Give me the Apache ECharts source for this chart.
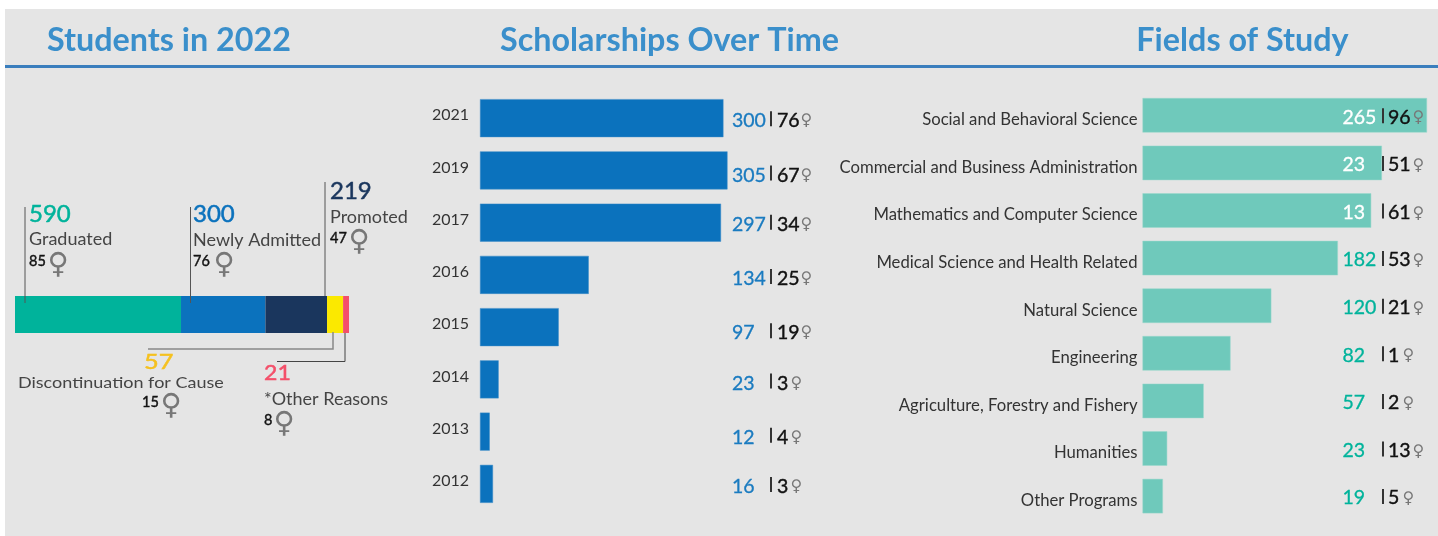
<!DOCTYPE html>
<html>
<head>
<meta charset="utf-8">
<title>Students in 2022</title>
<script src="https://cdn.jsdelivr.net/npm/echarts@6/dist/echarts.min.js"></script>
<style>
html, body { margin: 0; padding: 0; background: #fff; }
#chart { width: 1438px; height: 536px; }
</style>
</head>
<body>
<div id="chart"></div>
<script>
// students in 2022
var statusNames = ['Graduated', 'Newly Admitted', 'Promoted', 'Discontinuation for Cause', '*Other Reasons'];
var statusValues = [590, 300, 219, 57, 21];
var statusFemale = [85, 76, 47, 15, 8];
var statusColors = ['#00b39b', '#0b72bd', '#1a365d', '#fbe900', '#f4506a'];

// scholarships
var years = ['2021', '2019', '2017', '2016', '2015', '2014', '2013', '2012'];
var scholarships = [300, 305, 297, 134, 97, 23, 12, 16];
var scholarshipFemale = [76, 67, 34, 25, 19, 3, 4, 3];

// fields, the printed labels of rows 2 and 3 differ from the bar lengths
var fields = ['Social and Behavioral Science', 'Commercial and Business Administration', 'Mathematics and Computer Science', 'Medical Science and Health Related', 'Natural Science', 'Engineering', 'Agriculture, Forestry and Fishery', 'Humanities', 'Other Programs'];
var fieldValues = [265, 223, 213, 182, 120, 82, 57, 23, 19];
var fieldLabels = ['265', '23', '13', '182', '120', '82', '57', '23', '19'];
var fieldFemale = [96, 51, 61, 53, 21, 1, 2, 13, 5];

var LATO = 'Lato, "Noto Sans", sans-serif';
var VENUS = '\u2640';
// the scholarship labels do not sit evenly on their rows
var scholarshipNudge = [3, 5, 2, 4, 6, 4, 6, 3];

var myChart = echarts.init(document.getElementById('chart'));

function sum(arr) {
    return arr.reduce(function (a, b) { return a + b; }, 0);
}

function hiddenX(grid, max) {
    return { type: 'value', gridIndex: grid, min: 0, max: max, show: false };
}

function catY(grid, data, size, margin, vAlign, lineH) {
    return {
        type: 'category', gridIndex: grid, data: data, inverse: true,
        axisLine: { show: false }, axisTick: { show: false }, splitLine: { show: false },
        axisLabel: {
            color: '#333', fontFamily: LATO, fontSize: size, margin: margin,
            verticalAlign: vAlign, lineHeight: lineH
        }
    };
}

var series = statusValues.map(function (v, i) {
    return {
        type: 'bar', name: statusNames[i], stack: 'status', xAxisIndex: 0, yAxisIndex: 0,
        barWidth: 37, data: [v], itemStyle: { color: statusColors[i] }, silent: true
    };
});
series.push({
    type: 'bar', xAxisIndex: 1, yAxisIndex: 1, barWidth: 38, data: scholarships,
    itemStyle: { color: '#0b72bd', borderColor: '#3c8dc9', borderWidth: 0.5 }, silent: true
});
series.push({
    type: 'bar', xAxisIndex: 2, yAxisIndex: 2, barWidth: 34.5, data: fieldValues,
    itemStyle: { color: '#6fc9bb', borderColor: '#9bd8cd', borderWidth: 0.5 }, silent: true
});

function title(text, x) {
    return {
        text: text, left: x, top: 20, textAlign: 'center',
        textStyle: { color: '#3a8fcb', fontFamily: LATO, fontSize: 32.3, fontWeight: 'bold' }
    };
}

myChart.setOption({
    animation: false,
    backgroundColor: '#fff',
    title: [title('Students in 2022', 164), title('Scholarships Over Time', 664.5), title('Fields of Study', 1237.5)],
    grid: [
        { left: 15, top: 296, width: 334, height: 37 },
        { left: 480, top: 92, width: 247.5, height: 418 },
        { left: 1142.5, top: 91.5, width: 284.5, height: 428.4 }
    ],
    xAxis: [hiddenX(0, sum(statusValues)), hiddenX(1, 305), hiddenX(2, 265)],
    yAxis: [
        { type: 'category', gridIndex: 0, data: ['2022'], show: false },
        catY(1, years, 16, 11, 'bottom', 6),
        catY(2, fields, 16.7, 5, 'top', 9)
    ],
    series: series
});

function text(x, y, str, size, color, family, weight, stretch, heavy) {
    return {
        type: 'text', x: x, y: y, z: 10, silent: true, scaleX: stretch || 1,
        style: {
            text: str, fontSize: size, fill: color, fontFamily: family || LATO,
            fontWeight: weight || 'normal', align: 'left', verticalAlign: 'middle',
            stroke: heavy ? color : null, lineWidth: heavy || 0
        }
    };
}

function line(points, color, width) {
    return {
        type: 'polyline', z: 10, silent: true, shape: { points: points },
        style: { stroke: color, lineWidth: width, fill: null }
    };
}

function venus(x, y, size) {
    return text(x, y, VENUS, size, '#777', '"DejaVu Sans"');
}

// callout: p holds where the value, name and count lines go
function callout(i, p) {
    var color = statusColors[i] === '#fbe900' ? '#f5c11f' : statusColors[i];
    return [
        text(p.x, p.y, String(statusValues[i]), p.valueSize || 24, color, LATO, 'normal', p.valueStretch, 0.5),
        text(p.nameX, p.nameY, statusNames[i], p.nameSize || 18, '#444', LATO, 'normal', p.nameStretch),
        text(p.countX, p.countY, String(statusFemale[i]), 14.5, '#111', LATO, 'normal', 1, 0.4),
        venus(p.venusX, p.countY + 4, 29)
    ];
}

var g = [
    { type: 'rect', z: -10, silent: true, shape: { x: 5, y: 9, width: 1433, height: 527 }, style: { fill: '#e5e5e5' } },
    { type: 'rect', z: -9, silent: true, shape: { x: 5, y: 65, width: 1433, height: 3 }, style: { fill: '#3a7ebd' } },
    line([[25, 207], [25, 303]], '#555', 1),
    line([[190.5, 207], [190.5, 303]], '#555', 1),
    line([[325, 182], [325, 296]], '#555', 1),
    line([[148, 349], [333, 349], [333, 332]], '#888', 1.5),
    line([[277, 361.5], [345, 361.5], [345, 333]], '#444', 1)
];
g = g.concat(callout(0, { x: 29, y: 214, nameX: 29, nameY: 239, countX: 29, countY: 261, venusX: 47.5 }));
g = g.concat(callout(1, { x: 193, y: 214, nameX: 193, nameY: 240, countX: 193, countY: 261, venusX: 213.5 }));
g = g.concat(callout(2, { x: 330, y: 191, nameX: 330, nameY: 217, countX: 330, countY: 238, venusX: 348.5 }));
g = g.concat(callout(3, { x: 144, y: 362, valueSize: 22, valueStretch: 1.15, nameX: 18, nameY: 383, nameSize: 16, nameStretch: 1.125, countX: 142, countY: 402, venusX: 160.5 }));
g = g.concat(callout(4, { x: 264, y: 373, valueSize: 22, valueStretch: 1.05, nameX: 264, nameY: 399, countX: 264, countY: 420, venusX: 273.5 }));

// value | count sign, rows follow the category axes
scholarships.forEach(function (v, i) {
    var y = myChart.convertToPixel({ xAxisIndex: 1, yAxisIndex: 1 }, [0, i])[1] + scholarshipNudge[i];
    var c = String(scholarshipFemale[i]);
    g.push(text(732, y, String(v), 19.5, '#1a7bc0', LATO, 'normal', 1, 0.3));
    g.push(line([[771, y - 10], [771, y + 5]], '#333', 2));
    g.push(text(777, y, c, 19.5, '#111', LATO, 'normal', 1, 0.4));
    g.push(venus(780.5 + c.length * 10, y, 16));
});

fieldValues.forEach(function (v, i) {
    var y = myChart.convertToPixel({ xAxisIndex: 2, yAxisIndex: 2 }, [0, i])[1];
    var c = String(fieldFemale[i]);
    g.push(text(1342.5, y + 2, fieldLabels[i], 19.5, i < 3 ? '#fff' : '#00b39b', LATO, 'normal', 1, 0.3));
    g.push(line([[1383, y - 7], [1383, y + 8]], '#333', 2));
    g.push(text(1388, y + 2, c, 19.5, '#111', LATO, 'normal', 1, 0.4));
    g.push(venus(1392.5 + c.length * 10, y + 3, 16));
});

myChart.setOption({ graphic: { elements: g } });
</script>
</body>
</html>
